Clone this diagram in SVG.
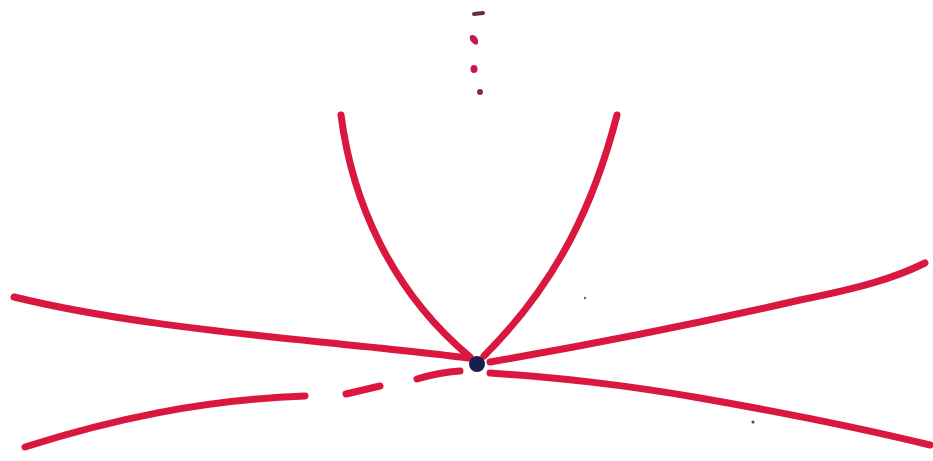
<svg xmlns="http://www.w3.org/2000/svg" width="933" height="461" viewBox="0 0 933 461">
<style>
.s{fill:none;stroke:#d9173f;stroke-width:7;stroke-linecap:round;stroke-linejoin:round}
.d{fill:#c8164a}
</style>
<rect width="933" height="461" fill="#ffffff"/>
<g id="strokes">
<path class="s" d="M341,115 C352,200 390,290 470,357"/>
<path class="s" d="M617,115 C595,200 560,280 484,356"/>
<path class="s" d="M14,297 C100,318 200,330 320,342 C380,348 430,353 468,358"/>
<path class="s" d="M25,447 C110,420 200,400 305,396"/>
<path class="s" d="M346,394 L380,386"/>
<path class="s" d="M417,379 C430,375 445,372 460,371"/>
<path class="s" d="M490,362 C600,343 700,323 800,300 C860,288 895,278 925,263"/>
<path class="s" d="M490,373 C560,378 620,384 700,398 C780,412 860,428 930,445"/>
</g>
<g id="dots">
<path d="M474,14 L483,13" stroke="#6a2b4a" stroke-width="4" stroke-linecap="round"/>
<path class="d" d="M470,36 C474,33 478,38 478,41 C479,44 476,46 474,44 C471,42 469,39 470,36Z"/>
<ellipse class="d" cx="474" cy="69" rx="3.5" ry="4"/>
<circle cx="480" cy="92" r="3" fill="#8a2a4a"/>
<circle cx="753" cy="422" r="1.5" fill="#444"/>
<circle cx="585" cy="298" r="1.2" fill="#666"/>
</g>
<g id="center">
<circle cx="477" cy="364" r="8" fill="#1b1d4f"/>
</g>
</svg>
